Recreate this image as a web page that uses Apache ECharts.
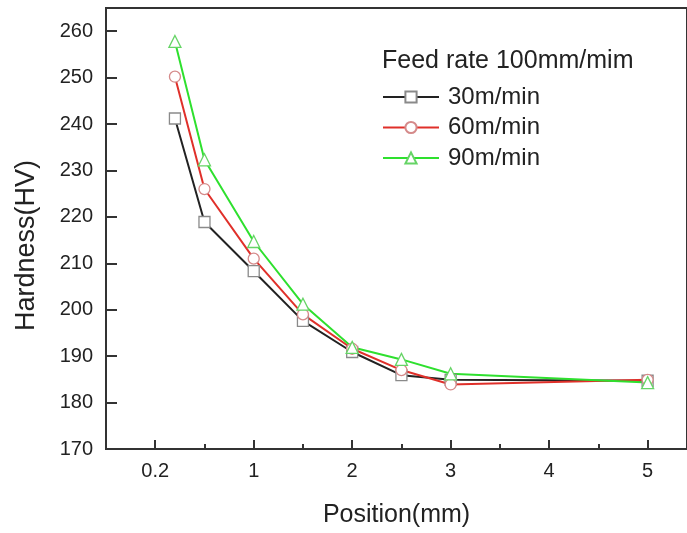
<!DOCTYPE html>
<html>
<head>
<meta charset="utf-8">
<script src="https://cdn.jsdelivr.net/npm/echarts@6/dist/echarts.min.js"></script>
<style>
  html, body { margin: 0; padding: 0; background: #fff; }
  #main { width: 687px; height: 533px; }
</style>
</head>
<body>
<div id="main"></div>
<script>
var positions = [0.2, 0.5, 1, 1.5, 2, 2.5, 3, 5];
var hv30 = [241.2, 218.9, 208.3, 197.6, 190.9, 185.9, 184.9, 184.7];
var hv60 = [250.2, 226.0, 211.0, 199.0, 191.6, 187.0, 183.9, 184.9];
var hv90 = [257.8, 232.3, 214.7, 201.2, 191.9, 189.3, 186.2, 184.3];
var xTickValues = [0, 1, 2, 3, 4, 5];
var xTickLabels = ['0.2', '1', '2', '3', '4', '5'];
var xMinorValues = [0.5, 1.5, 2.5, 3.5, 4.5];
var yTickValues = [170, 180, 190, 200, 210, 220, 230, 240, 250, 260];

function pairs(vals) {
  return positions.map(function (p, i) { return [p, vals[i]]; });
}

var chart = echarts.init(document.getElementById('main'));
var font = 'Liberation Sans, Arial, sans-serif';

function mkSeries(name, vals, color, symbol, markColor) {
  return {
    name: name,
    type: 'line',
    data: pairs(vals),
    symbol: symbol,
    symbolSize: symbol === 'triangle' ? 12 : 11,
    showAllSymbol: true,
    lineStyle: { color: color, width: 2 },
    itemStyle: { color: '#fff', borderColor: markColor, borderWidth: 1.3 },
    emphasis: { disabled: true },
    z: 3
  };
}

var option = {
  backgroundColor: '#fff',
  animation: false,
  textStyle: { fontFamily: font },
  grid: {
    left: 106, top: 8, right: -3, bottom: 83,
    show: true, borderColor: '#333', borderWidth: 2
  },
  title: {
    text: 'Feed rate 100mm/mim',
    left: 382, top: 49, padding: 0,
    textStyle: { fontSize: 25, fontWeight: 'normal', color: '#222', fontFamily: font, lineHeight: 25 }
  },
  legend: {
    orient: 'vertical',
    left: 382, top: 85, padding: 0,
    itemWidth: 56, itemHeight: 14, itemGap: 6.5,
    textStyle: { fontSize: 24, lineHeight: 24, color: '#222', fontFamily: font, padding: [0, 0, 0, 4] },
    data: ['30m/min', '60m/min', '90m/min']
  },
  xAxis: [{
    type: 'value',
    min: -0.5, max: 5.4,
    name: 'Position(mm)',
    nameLocation: 'middle',
    nameGap: 54,
    nameTextStyle: { fontSize: 25, color: '#222', fontFamily: font },
    axisLine: { show: true, onZero: false, lineStyle: { color: '#333', width: 2 } },
    axisTick: { show: true, inside: true, length: 9, customValues: xTickValues, lineStyle: { color: '#333', width: 2 } },
    axisLabel: {
      customValues: xTickValues, margin: 12, fontSize: 20, color: '#222', fontFamily: font,
      formatter: function (v) { return xTickLabels[xTickValues.indexOf(v)]; }
    },
    splitLine: { show: false }
  }, {
    type: 'value',
    min: -0.5, max: 5.4,
    position: 'bottom',
    axisLine: { show: false, onZero: false },
    axisTick: { show: true, inside: true, length: 5, customValues: xMinorValues, lineStyle: { color: '#333', width: 2 } },
    axisLabel: { show: false },
    splitLine: { show: false }
  }],
  yAxis: {
    type: 'value',
    min: 170, max: 265,
    name: 'Hardness(HV)',
    nameLocation: 'middle',
    nameGap: 66,
    nameTextStyle: { fontSize: 27, color: '#222', fontFamily: font, padding: [0, 34, 0, 0] },
    axisLine: { show: true, onZero: false, lineStyle: { color: '#333', width: 2 } },
    axisTick: { show: true, inside: true, length: 11, customValues: yTickValues, lineStyle: { color: '#333', width: 2 } },
    axisLabel: { customValues: yTickValues, margin: 13, fontSize: 20, color: '#222', fontFamily: font },
    splitLine: { show: false }
  },
  series: [
    mkSeries('30m/min', hv30, '#222222', 'rect', '#8a8a8a'),
    mkSeries('60m/min', hv60, '#e0302a', 'circle', '#d58a8a'),
    mkSeries('90m/min', hv90, '#2ee02e', 'triangle', '#66d466')
  ]
};
chart.setOption(option);
</script>
</body>
</html>
